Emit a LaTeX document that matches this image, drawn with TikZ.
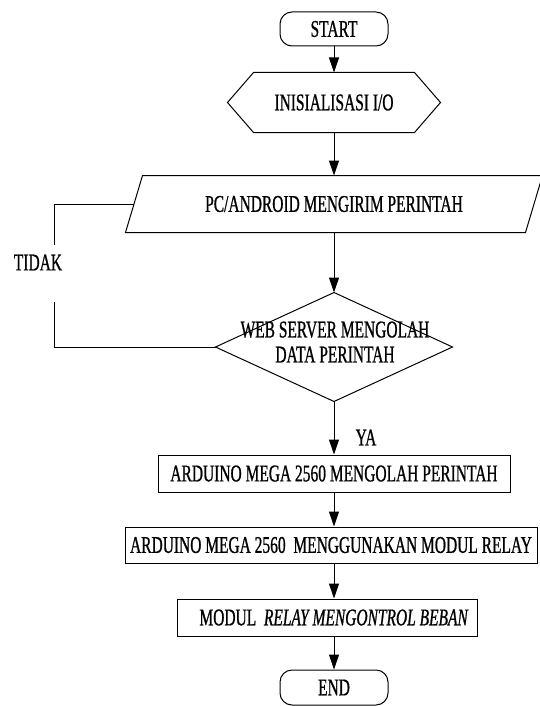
\documentclass[tikz,border=0pt]{standalone}
\usepackage{fontspec}
\setmainfont{Liberation Serif}[FakeStretch=0.645,FakeBold=0.8]
\usetikzlibrary{arrows.meta}
\begin{document}
\begin{tikzpicture}[x=1pt,y=-1pt,line width=1pt,
  every node/.style={font=\fontsize{24}{25}\selectfont, inner sep=0pt},
  arr/.style={-{Triangle[length=15pt,width=10pt]}},
  proc/.style={draw, rectangle, inner sep=0pt},
  term/.style={draw, rectangle, rounded corners=12pt, inner sep=0pt},
  ghost/.style={rectangle, inner sep=0pt}]
\useasboundingbox (0,0) rectangle (540,706);
\clip (0,0) rectangle (540,706);

% terminals and steps
\node[term, minimum width=108pt, minimum height=34pt] (start) at (334,29) {START};

\node[ghost, minimum width=212pt, minimum height=59pt] (ini) at (334,102.5) {INISIALISASI I/O};
\draw (ini.west) -- ([xshift=26pt]ini.north west) -- ([xshift=-26pt]ini.north east)
      -- (ini.east) -- ([xshift=-26pt]ini.south east) -- ([xshift=26pt]ini.south west) -- cycle;

\node[ghost, minimum width=399pt, minimum height=56pt] (pc) at (334,204) {PC/ANDROID MENGIRIM PERINTAH};
\draw ([xshift=8.5pt]pc.north west) -- ([xshift=8.5pt]pc.north east)
      -- ([xshift=-8.5pt]pc.south east) -- ([xshift=-8.5pt]pc.south west) -- cycle;

\node[ghost, minimum width=236pt, minimum height=108pt] (dec) at (334,347) {};
\draw (dec.north) -- (dec.east) -- (dec.south) -- (dec.west) -- cycle;
\node[align=center] (dectxt) at (335,342) {WEB SERVER MENGOLAH\\DATA PERINTAH};

\node[proc, minimum width=352pt, minimum height=37pt] (ard1) at (334,473.5) {ARDUINO MEGA 2560 MENGOLAH PERINTAH};
\node[proc, minimum width=412pt, minimum height=36pt] (ard2) at (331,545) {ARDUINO MEGA 2560\ \ MENGGUNAKAN MODUL RELAY};
\node[proc, minimum width=300pt, minimum height=37pt] (mod) at (327,617.5) {\hspace*{14pt}MODUL\ \ \textit{RELAY MENGONTROL BEBAN}};
\node[term, minimum width=108pt, minimum height=35pt] (end) at (334,687.5) {END};

% labels
\node (ya) at (366,437.5) {YA};
\node (tidak) at (38,262.5) {TIDAK};

% connectors
\draw[arr] (start) -- (ini);
\draw[arr] (ini) -- (pc);
\draw[arr] (pc) -- (dec);
\draw[arr] (dec) -- (ard1);
\draw[arr] (ard1.south) -- (ard1.south |- ard2.north);
\draw[arr] (ard1.south |- ard2.south) -- (ard1.south |- mod.north);
\draw[arr] (ard1.south |- mod.south) -- (end);

% loop back (TIDAK)
\coordinate (lt) at (54,204);
\coordinate (gapt) at (54,245);
\coordinate (gapb) at (54,302);
\coordinate (lb) at (54,347);
\draw (pc.west) -- (lt) -- (gapt);
\draw (gapb) -- (lb) -- (dec.west);
\end{tikzpicture}
\end{document}
